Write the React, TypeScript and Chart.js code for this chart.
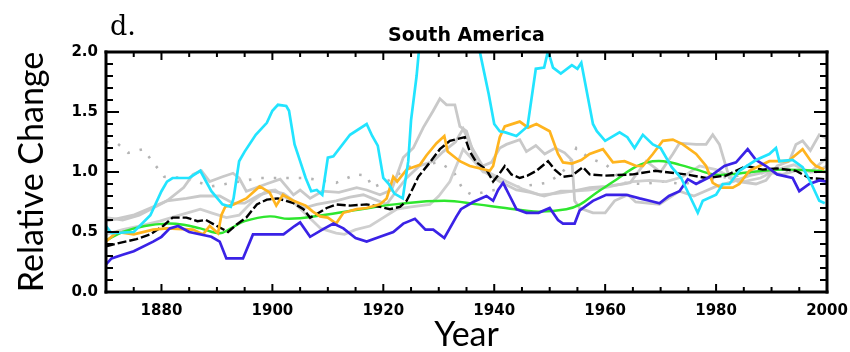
import React, { useEffect, useRef } from "react";
import { Chart, registerables } from "chart.js";

Chart.register(...registerables);

const X_MIN = 1870;
const X_MAX = 2000;
const Y_MIN = 0;
const Y_MAX = 2;
const chartTitle = "South America";
const panelLabel = "d.";
const xTitle = "Year";
const yTitle = "Relative Change";
const xTickYears = [1880, 1900, 1920, 1940, 1960, 1980, 2000];
const yTickValues = [0, 0.5, 1.0, 1.5, 2.0];

const cyanYears = [1870, 1871, 1875, 1878, 1880, 1881, 1882, 1885, 1887, 1889, 1891, 1892.5, 1893, 1894, 1895, 1897, 1899, 1900, 1901, 1902.5, 1903, 1904, 1905, 1906, 1907, 1908, 1909, 1910, 1911, 1914, 1917, 1918, 1919, 1920, 1921, 1922, 1923.5, 1924.5, 1925, 1926, 1927, 1930, 1934, 1936.5, 1937.5, 1939, 1940, 1941, 1942, 1944, 1946, 1947.5, 1949, 1949.7, 1950.6, 1952, 1954, 1955, 1955.7, 1957.8, 1958.5, 1960, 1962.6, 1964, 1965.3, 1966.8, 1968.6, 1970, 1972, 1973.7, 1976.7, 1977.6, 1980, 1981.2, 1982.4, 1984.2, 1987.2, 1989.6, 1990.8, 1991.4, 1993.8, 1995.6, 1997.1, 1998.6, 1999.6];
const cyanValues = [0.55, 0.49, 0.5, 0.64, 0.84, 0.92, 0.95, 0.95, 1.01, 0.84, 0.73, 0.71, 0.78, 1.09, 1.17, 1.31, 1.41, 1.51, 1.56, 1.55, 1.51, 1.23, 1.09, 0.95, 0.84, 0.85, 0.81, 1.12, 1.13, 1.31, 1.4, 1.3, 1.22, 0.95, 0.9, 0.82, 0.78, 1.09, 1.43, 1.8, 2.3, 2.6, 2.5, 2.2, 1.98, 1.65, 1.4, 1.34, 1.33, 1.3, 1.38, 1.86, 1.87, 2.01, 1.87, 1.82, 1.89, 1.86, 1.91, 1.4, 1.34, 1.26, 1.33, 1.29, 1.2, 1.31, 1.23, 1.2, 1.04, 0.95, 0.66, 0.76, 0.81, 0.9, 0.9, 1.01, 1.1, 1.15, 1.2, 1.09, 1.1, 1.04, 0.91, 0.76, 0.74];

const blueYears = [1870, 1871, 1873, 1875, 1878.5, 1880, 1881.5, 1883, 1885, 1889, 1890.5, 1891.7, 1894.7, 1896.5, 1899, 1902, 1904, 1905, 1906.8, 1909, 1911, 1912.8, 1915, 1917, 1919.4, 1921.8, 1923.6, 1925.7, 1927.6, 1929, 1931, 1933.2, 1934, 1936.2, 1938.6, 1939.8, 1940.7, 1941.6, 1942.8, 1944, 1945.8, 1948, 1950, 1951.5, 1952.4, 1954.5, 1955.4, 1957.8, 1960.2, 1963.8, 1966.2, 1968, 1969.8, 1971.5, 1973.4, 1974.9, 1976.4, 1978.5, 1981.5, 1983.6, 1985.7, 1987.2, 1989, 1991, 1993.8, 1995, 1996.8, 1998.6, 2000];
const blueValues = [0.23, 0.28, 0.31, 0.34, 0.42, 0.46, 0.53, 0.55, 0.5, 0.46, 0.42, 0.28, 0.28, 0.48, 0.48, 0.48, 0.55, 0.58, 0.46, 0.52, 0.57, 0.53, 0.45, 0.42, 0.46, 0.5, 0.57, 0.61, 0.52, 0.52, 0.45, 0.63, 0.69, 0.75, 0.8, 0.76, 0.85, 0.91, 0.8, 0.69, 0.66, 0.66, 0.7, 0.6, 0.57, 0.57, 0.68, 0.76, 0.81, 0.81, 0.78, 0.76, 0.74, 0.8, 0.84, 0.94, 0.9, 0.95, 1.05, 1.08, 1.19, 1.1, 1.05, 0.98, 0.95, 0.84, 0.9, 0.93, 0.92];

const orangeYears = [1870, 1872, 1875, 1878.5, 1881, 1885.7, 1887.5, 1888.7, 1890.2, 1890.8, 1891.5, 1893, 1895.3, 1897.7, 1899.5, 1900.7, 1901.9, 1903.8, 1906, 1907.3, 1908.6, 1910, 1911.5, 1912.8, 1915.2, 1917, 1919.4, 1920.6, 1921.8, 1922.5, 1924.2, 1926.6, 1927.8, 1929.6, 1931, 1931.6, 1933.8, 1935.6, 1939.2, 1939.8, 1941, 1941.9, 1944.6, 1946.1, 1947.6, 1950, 1951.5, 1952.4, 1954, 1955.7, 1957.2, 1959.6, 1961.4, 1963.5, 1965.6, 1966.8, 1968.6, 1970.4, 1972.2, 1974, 1976.4, 1978.2, 1979.4, 1980.9, 1983, 1984.2, 1986, 1989.6, 1993, 1995.6, 1997.1, 1998, 1999.5];
const orangeValues = [0.42, 0.5, 0.48, 0.52, 0.53, 0.52, 0.48, 0.55, 0.49, 0.64, 0.71, 0.73, 0.78, 0.88, 0.83, 0.72, 0.81, 0.76, 0.72, 0.67, 0.63, 0.62, 0.57, 0.66, 0.69, 0.7, 0.73, 0.78, 0.96, 0.92, 1.02, 1.06, 1.14, 1.24, 1.3, 1.17, 1.09, 1.05, 1.01, 1.05, 1.29, 1.38, 1.42, 1.37, 1.4, 1.34, 1.15, 1.08, 1.07, 1.1, 1.15, 1.19, 1.08, 1.09, 1.05, 1.05, 1.15, 1.26, 1.27, 1.23, 1.15, 1.05, 0.91, 0.87, 0.87, 0.9, 1.01, 1.09, 1.09, 1.19, 1.09, 1.05, 1.02];

const blackYears = [1870, 1872.5, 1875.5, 1878, 1880.3, 1882, 1884.5, 1886.5, 1888, 1890, 1892, 1893.5, 1895.3, 1897.2, 1899, 1901, 1903.8, 1905.6, 1906.8, 1908, 1909.8, 1911.5, 1914, 1917, 1919.4, 1921.2, 1923, 1924.2, 1925.4, 1926.3, 1928.4, 1930.2, 1932, 1934.7, 1935.6, 1936.8, 1938.6, 1939.8, 1941, 1941.9, 1943.1, 1944.6, 1946, 1947.6, 1949.7, 1950.9, 1952.4, 1954, 1956, 1957.2, 1960, 1965, 1969, 1974.6, 1978.2, 1981.8, 1985.4, 1988.4, 1991, 1994.4, 1996.8, 1999.5];
const blackValues = [0.38, 0.41, 0.44, 0.48, 0.55, 0.62, 0.62, 0.59, 0.6, 0.55, 0.5, 0.56, 0.62, 0.73, 0.77, 0.78, 0.74, 0.69, 0.62, 0.65, 0.7, 0.73, 0.72, 0.73, 0.71, 0.69, 0.71, 0.76, 0.87, 0.96, 1.08, 1.19, 1.26, 1.29, 1.17, 1.08, 1.02, 0.92, 0.99, 1.05, 0.98, 0.95, 0.97, 1.01, 1.09, 1.02, 0.96, 0.97, 1.04, 0.98, 0.97, 0.98, 1.01, 0.98, 0.95, 0.97, 1.05, 1.02, 1.03, 1.01, 0.95, 0.94];

const greenYears = [1870, 1873, 1877, 1881, 1884, 1887, 1890.5, 1892.5, 1895, 1899.5, 1903, 1909, 1916, 1922, 1931, 1937, 1942, 1948, 1953, 1955.5, 1958.5, 1961.5, 1965, 1967.5, 1970.5, 1973.5, 1976.5, 1979.5, 1982.5, 1988.5, 1993, 1998, 2000];
const greenValues = [0.43, 0.5, 0.55, 0.57, 0.56, 0.53, 0.49, 0.53, 0.59, 0.63, 0.61, 0.64, 0.69, 0.73, 0.76, 0.73, 0.7, 0.67, 0.69, 0.73, 0.83, 0.92, 1.03, 1.08, 1.09, 1.06, 1.02, 0.98, 0.98, 1.01, 1.02, 1.01, 1.0];

const dottedYears = [1870, 1872, 1874, 1876.7, 1879, 1880.5, 1884, 1886.3, 1889, 1894, 1897.7, 1900, 1906, 1911.5, 1915, 1917, 1918, 1921, 1925, 1930, 1932.6, 1934.4, 1936, 1940, 1945, 1949.5, 1952, 1953.9, 1954.8, 1957, 1960.2, 1963.4, 1966.7, 1970.4, 1974, 1978, 1982, 1986, 1990, 1995, 2000];
const dottedValues = [1.25, 1.24, 1.16, 1.19, 1.05, 0.96, 0.95, 0.92, 0.88, 0.92, 0.95, 0.95, 0.95, 0.91, 0.98, 0.97, 0.87, 0.93, 1.05, 1.08, 1.01, 0.85, 0.81, 0.85, 0.88, 0.91, 0.98, 1.1, 1.2, 1.12, 1.06, 0.91, 0.9, 0.92, 0.9, 0.93, 0.96, 0.98, 1.0, 1.0, 1.0];

const grayAYears = [1870, 1873, 1876, 1878.5, 1881, 1884, 1885.7, 1887.2, 1888.7, 1891, 1892.9, 1894, 1895.3, 1898.9, 1901.4, 1903.8, 1905, 1906.8, 1909, 1912, 1915.2, 1917, 1919.4, 1921.5, 1923.6, 1925.4, 1927.2, 1929, 1930.2, 1931.4, 1932.9, 1933.8, 1935, 1936.8, 1938.6, 1941, 1944, 1946.5, 1949, 1952, 1954.2, 1957.2, 1960.2, 1963.2, 1964.5, 1967.4, 1970, 1972.2, 1973.4, 1976.4, 1978.2, 1979.4, 1980.6, 1982.4, 1984, 1987.2, 1989, 1991, 1993.2, 1994.4, 1995.6, 1997, 1998.6, 2000];
const grayAValues = [0.62, 0.6, 0.64, 0.7, 0.76, 0.87, 0.98, 1.01, 0.92, 0.96, 0.99, 0.95, 0.84, 0.9, 0.94, 0.81, 0.85, 0.78, 0.84, 0.83, 0.87, 0.85, 0.81, 0.85, 1.12, 1.2, 1.37, 1.51, 1.61, 1.56, 1.56, 1.38, 1.34, 1.08, 0.99, 0.92, 0.85, 0.83, 0.8, 0.84, 0.84, 0.87, 0.88, 0.9, 0.91, 1.09, 1.0, 1.15, 1.24, 1.23, 1.23, 1.31, 1.23, 0.95, 0.92, 0.9, 0.93, 1.05, 1.09, 1.23, 1.26, 1.18, 1.31, 1.28];

const grayBYears = [1870, 1874.9, 1878, 1881, 1884.5, 1887, 1890.5, 1892.9, 1895, 1897.7, 1900, 1902, 1905.6, 1908, 1911.5, 1914, 1916.4, 1918, 1920.6, 1922.5, 1924.2, 1926.5, 1929, 1930.8, 1933, 1934.4, 1936, 1937.9, 1939.5, 1941, 1942.2, 1944.6, 1945.8, 1947.5, 1949.1, 1951, 1952.7, 1954, 1954.5, 1955.4, 1957.8, 1960, 1961.7, 1964.1, 1965.5, 1969.8, 1973.4, 1976, 1978, 1980, 1983, 1986, 1989, 1992, 1995, 1998, 2000];
const grayBValues = [0.59, 0.64, 0.7, 0.76, 0.78, 0.8, 0.8, 0.74, 0.74, 0.81, 0.84, 0.82, 0.7, 0.73, 0.76, 0.79, 0.81, 0.78, 0.73, 0.85, 0.95, 1.05, 1.09, 1.17, 1.25, 1.36, 1.2, 1.05, 1.08, 1.2, 1.23, 1.27, 1.17, 1.22, 1.15, 1.2, 1.16, 1.1, 0.76, 0.7, 0.66, 0.66, 0.76, 0.81, 0.75, 0.73, 0.84, 0.8, 0.84, 0.88, 0.92, 0.97, 1.0, 0.98, 1.02, 1.0, 1.05];

const grayCYears = [1870, 1873, 1876, 1879.7, 1883.3, 1887, 1889, 1891.7, 1894, 1896.5, 1898.9, 1900.5, 1902, 1904, 1906, 1908.7, 1911.5, 1913, 1915, 1917.6, 1920, 1922.4, 1925, 1928.4, 1930, 1932, 1934.4, 1936.2, 1938, 1939.2, 1942.2, 1945, 1948.2, 1951, 1954.2, 1957, 1960, 1963, 1965, 1968, 1971, 1974, 1977, 1980, 1983, 1985, 1988, 1991, 1994, 1997, 2000];
const grayCValues = [0.48, 0.52, 0.55, 0.59, 0.64, 0.69, 0.66, 0.62, 0.64, 0.76, 0.84, 0.85, 0.8, 0.74, 0.65, 0.53, 0.49, 0.48, 0.52, 0.55, 0.62, 0.69, 0.71, 0.73, 0.8, 0.92, 1.19, 1.1, 1.0, 0.99, 0.92, 0.86, 0.81, 0.82, 0.84, 0.85, 0.87, 0.9, 0.92, 0.93, 0.92, 0.96, 1.05, 1.02, 0.95, 0.92, 0.95, 1.02, 1.06, 1.0, 1.12];

function toPoints(years: number[], values: number[]) {
  return years.map((yr, i) => ({ x: yr, y: values[i] }));
}

const frameAndTicks = {
  id: "frameAndTicks",
  afterDraw(chart: any) {
    const ctx = chart.ctx;
    const a = chart.chartArea;
    const xs = chart.scales.x;
    const ys = chart.scales.y;
    ctx.save();
    ctx.setLineDash([]);
    ctx.fillStyle = "#000";
    ctx.font = '27px "DejaVu Serif"';
    ctx.textAlign = "left";
    ctx.textBaseline = "alphabetic";
    ctx.fillText(panelLabel, 110, 35);
    ctx.fillRect(a.left - 1.5, a.top - 1.5, a.right - a.left + 3, 3);
    ctx.fillRect(a.left - 1.5, a.bottom - 1.5, a.right - a.left + 3, 3);
    ctx.fillRect(a.left - 1.5, a.top - 1.5, 3, a.bottom - a.top + 3);
    ctx.fillRect(a.right - 1.5, a.top - 1.5, 3, a.bottom - a.top + 3);
    for (let yr = X_MIN; yr <= X_MAX; yr += 5) {
      const px = xs.getPixelForValue(yr);
      const len = (yr - 1880) % 20 === 0 ? 8 : 5;
      ctx.fillRect(px - 1, a.bottom - len, 2, len);
      ctx.fillRect(px - 1, a.top, 2, len);
    }
    for (let i = 0; i <= 20; i++) {
      const py = ys.getPixelForValue(i / 10);
      const len = i % 5 === 0 ? 13 : 7;
      ctx.fillRect(a.left, py - 1, len, 2);
      ctx.fillRect(a.right - len, py - 1, len, 2);
    }
    ctx.restore();
  },
};

const frameBorder = { display: true, color: "#000", width: 2 };

export default function App() {
  const canvasRef = useRef<HTMLCanvasElement | null>(null);

  useEffect(() => {
    const canvas = canvasRef.current;
    if (!canvas) return;
    const line = (label: string, years: number[], values: number[], color: string, width: number, extra: any = {}) => ({
      label,
      data: toPoints(years, values),
      borderColor: color,
      borderWidth: width,
      pointRadius: 0,
      tension: 0,
      ...extra,
    });
    const chart = new Chart(canvas, {
      type: "line",
      data: {
        datasets: [
          line("cyan", cyanYears, cyanValues, "#22e4ff", 2.7),
          line("blue", blueYears, blueValues, "#3a22e6", 2.7),
          line("orange", orangeYears, orangeValues, "#ffb41e", 2.7),
          line("black", blackYears, blackValues, "#000000", 2.4, { borderDash: [9, 3] }),
          line("green", greenYears, greenValues, "#2ee62e", 2.4, { tension: 0.4 }),
          line("grayA", grayAYears, grayAValues, "#c9c9c9", 2.8),
          line("grayB", grayBYears, grayBValues, "#c9c9c9", 2.8),
          line("grayC", grayCYears, grayCValues, "#cfcfcf", 2.8),
          line("dotted", dottedYears, dottedValues, "#b4b4b4", 2.6, { borderDash: [2.5, 10] }),
        ],
      },
      options: {
        responsive: false,
        animation: false,
        devicePixelRatio: 1,
        layout: { padding: { left: 0, right: 23, top: 0, bottom: 0 } },
        plugins: {
          legend: { display: false },
          tooltip: { enabled: false },
          title: {
            display: true,
            text: chartTitle,
            fullSize: false,
            color: "#000",
            font: { family: "DejaVu Sans", weight: "bold", size: 19, lineHeight: 1 },
            padding: { top: 27, bottom: 6 },
          },
        },
        scales: {
          x: {
            type: "linear",
            min: X_MIN,
            max: X_MAX,
            afterBuildTicks: (s: any) => {
              s.ticks = xTickYears.map((v) => ({ value: v }));
            },
            afterFit: (s: any) => {
              s.height = 60;
              s.paddingLeft = 0;
              s.paddingRight = 0;
            },
            grid: { display: false, drawTicks: false },
            border: frameBorder,
            ticks: {
              autoSkip: false,
              maxRotation: 0,
              padding: 10,
              color: "#000",
              font: { family: "DejaVu Sans", weight: "bold", size: 15 },
              callback: (v: any) => String(v),
            },
            title: {
              display: true,
              text: xTitle,
              color: "#000",
              font: { family: "Lato", size: 34, lineHeight: 1 },
              padding: { top: 0, bottom: 0 },
            },
          },
          y: {
            type: "linear",
            min: Y_MIN,
            max: Y_MAX,
            afterBuildTicks: (s: any) => {
              s.ticks = yTickValues.map((v) => ({ value: v }));
            },
            afterFit: (s: any) => {
              s.width = 106;
              s.paddingTop = 0;
              s.paddingBottom = 0;
            },
            grid: { display: false, drawTicks: false },
            border: frameBorder,
            ticks: {
              autoSkip: false,
              padding: 8,
              color: "#000",
              font: { family: "DejaVu Sans", weight: "bold", size: 15 },
              callback: (v: any) => Number(v).toFixed(1),
            },
            title: {
              display: true,
              text: yTitle,
              color: "#000",
              font: { family: "Lato", size: 34, lineHeight: 1 },
              padding: { top: 15, bottom: 0 },
            },
          },
        },
      },
      plugins: [frameAndTicks],
    } as any);
    return () => chart.destroy();
  }, []);

  return (
    <div style={{ position: "fixed", left: 0, top: 0, width: 850, height: 352, background: "#fff" }}>
      <canvas ref={canvasRef} width={850} height={352} />
    </div>
  );
}
